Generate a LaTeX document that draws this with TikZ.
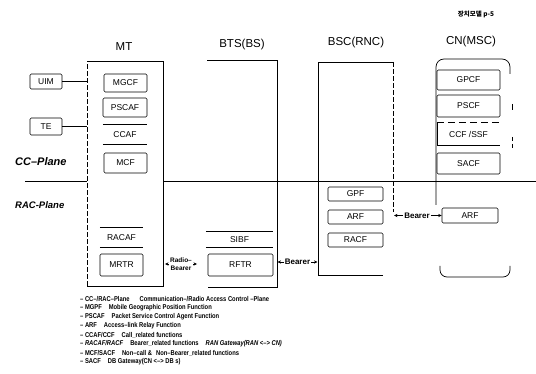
\documentclass[tikz,border=0pt]{standalone}
\usepackage{fontspec}
\setmainfont{Liberation Sans}
\newfontfamily\cjk{Noto Sans CJK KR}
\newfontfamily\legfont[FakeStretch=0.83]{Liberation Sans}
\usetikzlibrary{arrows.meta}
\tikzset{
  fbox/.style={draw, line width=0.6pt, rounded corners=1.2pt, inner sep=0pt, font=\fontsize{8.5}{10}\selectfont},
  lbox/.style={inner sep=0pt, font=\fontsize{8.5}{10}\selectfont},
  edge/.style={line width=0.6pt},
  wall/.style={line width=0.7pt},
  dwall/.style={line width=0.6pt, dash pattern=on 5pt off 2pt},
  divider/.style={line width=0.9pt},
  title/.style={font=\fontsize{11.5}{13}\selectfont},
  plane/.style={font=\fontsize{11}{13}\selectfont\bfseries\itshape, anchor=west, inner sep=0pt},
  bearer/.style={font=\fontsize{8}{9}\selectfont\bfseries, inner sep=1pt},
  tip/.style={-{Stealth[length=3.5pt,width=3.2pt]}, line width=0.5pt},
  legend/.style={font=\legfont\fontsize{7}{9}\selectfont\bfseries, anchor=west, inner sep=0pt},
}
\begin{document}
\begin{tikzpicture}[x=1pt,y=-1pt]
\useasboundingbox (0,0) rectangle (536,374);

% header text
\node[font=\cjk\bfseries\fontsize{6.5}{7}\selectfont] (hdr) at (476,14) {장치모델 p-5};

% titles
\node[title] (tmt) at (124,47) {MT};
\node[title] (tbts) at (242,45) {BTS(BS)};
\node[title] (tbsc) at (356,43) {BSC(RNC)};
\node[title] (tcn) at (471,42) {CN(MSC)};

% plane labels
\node[plane] (ccp) at (15,162) {CC–Plane};
\node[plane, font=\fontsize{9.5}{11}\selectfont\bfseries\itshape] (racp) at (15,205) {RAC-Plane};

% plane divider
\coordinate (d1) at (25,181);
\coordinate (d2) at (87,181);
\coordinate (d3) at (163,181);
\coordinate (d4) at (536,181);
\draw[divider] (d1) -- (d2);
\draw[divider] (d3) -- (d4);

% ---------- MT ----------
\coordinate (mtnw) at (87,61);
\coordinate (mtne) at (163,61);
\coordinate (mtse) at (163,286);
\coordinate (mtsw) at (87,286);
\draw[wall] (mtnw) -- (mtne) -- (mtse) -- (mtsw);
\draw[dwall] (mtsw) -- (mtnw);

\node[fbox, minimum width=32pt, minimum height=15pt] (uim) at (46,81.5) {UIM};
\node[fbox, minimum width=32pt, minimum height=17pt] (te) at (46,126.5) {TE};
\coordinate (uimj) at (87,81.5);
\coordinate (tej) at (87,126.5);
\draw[edge] (uim) -- (uimj);
\draw[edge] (te) -- (tej);

\node[fbox, minimum width=43pt, minimum height=18pt] (mgcf) at (125.5,83) {MGCF};
\node[fbox, minimum width=44pt, minimum height=19pt] (pscaf) at (125,107.5) {PSCAF};
\node[lbox, minimum width=44pt, minimum height=19pt] (ccaf) at (125,134.5) {CCAF};
\draw[edge] (ccaf.north west) -- (ccaf.north east);
\draw[edge] (ccaf.south west) -- (ccaf.south east);
\node[fbox, minimum width=43pt, minimum height=20pt] (mcf) at (125.5,163) {MCF};

\node[lbox, minimum width=43pt, minimum height=19pt] (racaf) at (121.5,237.5) {RACAF};
\draw[edge] (racaf.north west) -- (racaf.north east);
\draw[edge] (racaf.south west) -- (racaf.south east);
\node[fbox, minimum width=43pt, minimum height=22pt] (mrtr) at (121.5,265) {MRTR};

% ---------- BTS ----------
\coordinate (btsnw) at (207,60);
\coordinate (btsne) at (277,60);
\coordinate (btsse) at (277,287);
\coordinate (btssw) at (208,287);
\draw[wall] (btsnw) -- (btsne) -- (btsse) -- (btssw);

\node[lbox, minimum width=67pt, minimum height=15pt] (sibf) at (239.5,239.5) {SIBF};
\draw[edge] (sibf.north west) -- (sibf.north east);
\draw[edge] (sibf.south west) -- (sibf.south east);
\node[fbox, minimum width=65pt, minimum height=22pt] (rftr) at (240.5,265) {RFTR};

% Radio bearer
\node[bearer, font=\fontsize{6.5}{7.5}\selectfont\bfseries, align=center] (rb) at (181,264) {Radio–\\Bearer};
\draw[tip] (rb.west) -- ++(-4,0);
\draw[tip] (rb.east) -- ++(4,0);

% ---------- BSC ----------
\coordinate (bscse) at (383,275);
\coordinate (bscsw) at (318,275);
\coordinate (bscnw) at (318,62);
\coordinate (bscne) at (393,62);
\coordinate (bscre) at (393,212);
\draw[wall] (bscse) -- (bscsw) -- (bscnw) -- (bscne);
\draw[dwall] (bscne) -- (bscre);

\node[fbox, minimum width=55pt, minimum height=14pt] (gpf) at (355.5,194) {GPF};
\node[fbox, minimum width=55pt, minimum height=14pt] (arf) at (355.5,217) {ARF};
\node[fbox, minimum width=55pt, minimum height=14pt] (racf) at (355.5,240) {RACF};

% Bearer BTS-BSC
\node[bearer] (b1) at (297.5,262) {Bearer};
\coordinate (b1l) at (277.5,262);
\coordinate (b1r) at (317.5,262);
\draw[tip] (b1.west) -- (b1l);
\draw[tip] (b1.east) -- (b1r);

% ---------- CN ----------
\draw[wall, rounded corners=8pt] (436,205) -- (436,59) -- (510,59) -- (510,74);
\draw[edge] (512,104) -- (512,110);
\draw[edge] (512,137) -- (512,141);
\draw[edge] (512,144) -- (512,148);
\draw[wall, rounded corners=7pt] (440,266) -- (440,277) -- (510,277) -- (510,266);

\node[fbox, minimum width=63pt, minimum height=20pt] (gpcf) at (468.5,80) {GPCF};
\node[fbox, minimum width=63pt, minimum height=22pt] (pscf) at (468.5,106) {PSCF};
\node[lbox, minimum width=63pt, minimum height=22pt] (ccf) at (468.5,134) {CCF /SSF};
\draw[edge, dash pattern=on 7pt off 4pt] (ccf.north west) -- (ccf.north east);
\draw[edge] (ccf.north west) -- (ccf.south west) -- (ccf.south east);
\node[fbox, minimum width=63pt, minimum height=21pt] (sacf) at (468.5,163.5) {SACF};
\node[fbox, minimum width=56pt, minimum height=15pt] (arfcn) at (470,215.5) {ARF};

% Bearer BSC-CN
\node[bearer] (b2) at (417,215.5) {Bearer};
\coordinate (b2l) at (394,215.5);
\draw[tip] (b2.west) -- (b2l);
\draw[tip] (b2.east) -- (arfcn.west);

% ---------- legend ----------
\node[legend] (l1) at (80,299) {– CC–/RAC–Plane\hspace{10pt}Communication–/Radio Access Control –Plane};
\node[legend] (l2) at (80,308) {– MGPF\hspace{7pt}Mobile Geographic Position Function};
\node[legend] (l3) at (80,317) {– PSCAF\hspace{7pt}Packet Service Control Agent Function};
\node[legend] (l4) at (80,326) {– ARF\hspace{7pt}Access–link Relay Function};
\node[legend] (l5) at (80,335) {– CCAF/CCF\hspace{7pt}Call\_related functions};
\node[legend] (l6) at (80,344) {– \textit{RACAF/RACF}\hspace{7pt}Bearer\_related functions\hspace{7pt}\textit{RAN Gateway(RAN <–> CN)}};
\node[legend] (l7) at (80,353) {– MCF/SACF\hspace{7pt}Non–call \&\hspace{4pt}Non–Bearer\_related functions};
\node[legend] (l8) at (80,362) {– SACF\hspace{7pt}DB Gateway(CN <–> DB s)};
\end{tikzpicture}
\end{document}
